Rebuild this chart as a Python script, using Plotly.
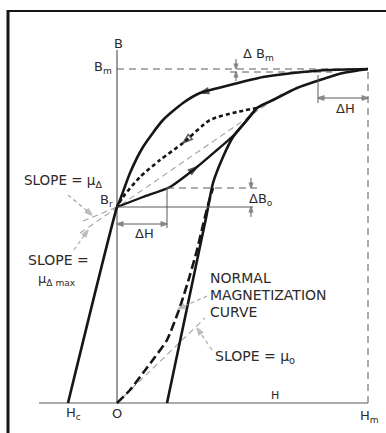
import plotly.graph_objects as go

# diagram units: H to the right of O, B up from O
H_m, B_m = 251, 334          # tip of the major loop
B_r, H_c = 196, -49          # remanence and coercive force
dH = 50                      # incremental field step
dB0 = 19                     # incremental flux at B_r
dBm = 3                      # incremental flux at B_m

# major loop, descending branch (tip -> Br -> Hc)
desc_H = [251, 210, 176, 146, 113, 83, 66, 46, 26, 13, 3, 0, -49]
desc_B = [334, 333, 330, 326, 318, 310, 300, 283, 256, 230, 203, 196, 0]

# major loop, ascending branch
asc_H = [50, 89, 96, 106, 116, 130, 140, 156, 180, 203, 226, 251]
asc_B = [0, 185, 220, 246, 266, 283, 295, 303, 315, 323, 330, 334]

# minor loop from Br, going up (solid) and coming back (dotted)
minor_up_H = [0, 26, 53, 80, 100, 116, 130, 140]
minor_up_B = [196, 206, 216, 236, 253, 267, 283, 295]
minor_dn_H = [140, 120, 93, 66, 43, 23, 6, 0]
minor_dn_B = [295, 291, 283, 260, 243, 226, 206, 196]

# normal magnetization curve
norm_H = [0, 13, 26, 38, 50, 63, 73, 80, 86, 91, 96]
norm_B = [0, 13, 30, 46, 63, 96, 128, 153, 178, 198, 215]

# slope lines
mu0_H, mu0_B = [0, 88], [0, 85]
mud_H, mud_B = [-37, 165], [170, 309]
mudmax_H, mudmax_B = [-34, 0], [182, 196]

INK = "#161616"
GREY = "#a3a3a3"
MID = "#5a5a5a"
TEXT = "#2e2a28"
FONT = "DejaVu Sans"

fig = go.Figure()


def line(x, y, color=INK, width=2.6, dash="solid", smooth=False):
    fig.add_trace(go.Scatter(x=x, y=y, mode="lines", hoverinfo="skip",
                             line=dict(color=color, width=width, dash=dash,
                                       shape="spline" if smooth else "linear",
                                       smoothing=0.6)))


def arrow(x, y, color=INK, width=1.0, size=7, dash="solid", symbol="arrow"):
    sizes = [0] * (len(x) - 1) + [size]
    fig.add_trace(go.Scatter(x=x, y=y, mode="lines+markers", hoverinfo="skip",
                             line=dict(color=color, width=width, dash=dash),
                             marker=dict(symbol=symbol, size=sizes, angleref="previous",
                                         color=color, line=dict(color=color, width=1.5))))


# axes
line([H_c - 29, H_m], [0, 0], color=MID, width=1.2)
line([0, 0], [0, B_m + 19], color=MID, width=1.2)
# Bm / Hm guides
line([0, H_m], [B_m, B_m], color=MID, width=1, dash="7px,5px")
line([H_m, H_m], [0, B_m], color=MID, width=1, dash="7px,5px")
line([113, H_m - 36], [B_m - dBm, B_m - dBm], color=MID, width=1, dash="7px,5px")

# grey slope lines
line(mu0_H, mu0_B, color=GREY, width=1.1, dash="6px,4px")
line(mud_H, mud_B, color=GREY, width=1.1, dash="6px,4px")
line(mudmax_H, mudmax_B, color=GREY, width=1.1, dash="6px,4px")

# curves
line(desc_H, desc_B, smooth=True)
line(asc_H, asc_B, smooth=True)
line(minor_up_H, minor_up_B, width=2.4, smooth=True)
line(minor_dn_H, minor_dn_B, width=2.6, dash="4px,3px", smooth=True)
line(norm_H, norm_B, width=2.6, dash="9px,4px", smooth=True)

# direction arrows on curves
arrow(desc_H[4:6], desc_B[4:6], width=0, size=9)
arrow(minor_up_H[2:4], minor_up_B[2:4], width=0, size=9)
arrow(minor_dn_H[2:4], minor_dn_B[2:4], width=0, size=10, symbol="arrow-open")

# dimension: dH at the tip
line([H_m - dH, H_m - dH], [B_m - 6, B_m - 34], color=MID, width=1)
arrow([H_m - dH / 2, H_m - dH], [B_m - 29, B_m - 29], color=MID, size=6)
arrow([H_m - dH / 2, H_m], [B_m - 29, B_m - 29], color=MID, size=6)
# dimension: dH at Br
line([dH, dH], [B_r + dB0, B_r - 21], color=MID, width=1)
arrow([dH / 2, 0], [B_r - 17, B_r - 17], color=MID, size=6)
arrow([dH / 2, dH], [B_r - 17, B_r - 17], color=MID, size=6)
# dimension: dB0
line([dH, 140], [B_r + dB0, B_r + dB0], color=MID, width=1, dash="7px,5px")
line([0, 136], [B_r, B_r], color=MID, width=1)
arrow([134, 134], [B_r + dB0 + 10, B_r + dB0], color=MID, size=5)
arrow([134, 134], [B_r - 10, B_r], color=MID, size=5)
# dimension: dBm
arrow([119, 119], [B_m + 10, B_m], color=MID, size=5)
arrow([119, 119], [B_m - dBm - 9, B_m - dBm], color=MID, size=5)

# leaders
arrow([-49, -25], [208, 188], color=GREY, width=1.1, size=7, dash="4px,3px")
arrow([-43, -29], [153, 173], color=GREY, width=1.1, size=7, dash="4px,3px")
arrow([90, 61], [107, 94], color=GREY, width=1.1, size=7, dash="4px,3px")
arrow([95, 80], [53, 75], color=GREY, width=1.1, size=7, dash="4px,3px")

labels = [
    ("B", 1, 360, "center", 13),
    ("B<sub>m</sub>", -3, 336, "right", 13),
    ("B<sub>r</sub>", -2, 203, "right", 13),
    ("H<sub>c</sub>", -44, -10, "center", 13),
    ("O", 0, -10, "center", 13),
    ("H<sub>m</sub>", 252, -13, "center", 13),
    ("H", 158, 8, "center", 11),
    ("Δ B<sub>m</sub>", 141, 349, "center", 13),
    ("ΔB<sub>o</sub>", 144, 204, "center", 13),
    ("ΔH", 27, 170, "center", 13),
    ("ΔH", 228, 295, "center", 13),
    ("SLOPE = μ<sub>Δ</sub>", -95, 222, "left", 13.5),
    ("SLOPE =", -91, 143, "left", 14),
    ("μ<sub>Δ max</sub>", -81, 124, "left", 13),
    ("NORMAL", 91, 125, "left", 14),
    ("MAGNETIZATION", 91, 108, "left", 14),
    ("CURVE", 91, 91, "left", 14),
    ("SLOPE = μ<sub>o</sub>", 96, 46, "left", 14),
]
for text, x, y, anchor, size in labels:
    fig.add_annotation(x=x, y=y, text=text, showarrow=False, xanchor=anchor,
                       yanchor="middle", font=dict(family=FONT, size=size, color=TEXT))

# frame
fig.add_shape(type="line", xref="paper", yref="paper", x0=8 / 386, x1=8 / 386,
              y0=0, y1=1 - 10 / 433, line=dict(color=INK, width=3))
fig.add_shape(type="line", xref="paper", yref="paper", x0=8 / 386, x1=1,
              y0=1 - 11 / 433, y1=1 - 11 / 433, line=dict(color=INK, width=2))

fig.update_layout(
    width=386, height=433,
    margin=dict(l=0, r=0, t=0, b=0),
    paper_bgcolor="white", plot_bgcolor="white",
    showlegend=False,
    xaxis=dict(range=[-117, 269], visible=False, fixedrange=True),
    yaxis=dict(range=[-30, 403], visible=False, fixedrange=True),
)

# drop the browser's default body margin so the figure sits at the page corner
fig.write_html("out.html", config={"displayModeBar": False},
               post_script="document.body.style.margin='0';")
